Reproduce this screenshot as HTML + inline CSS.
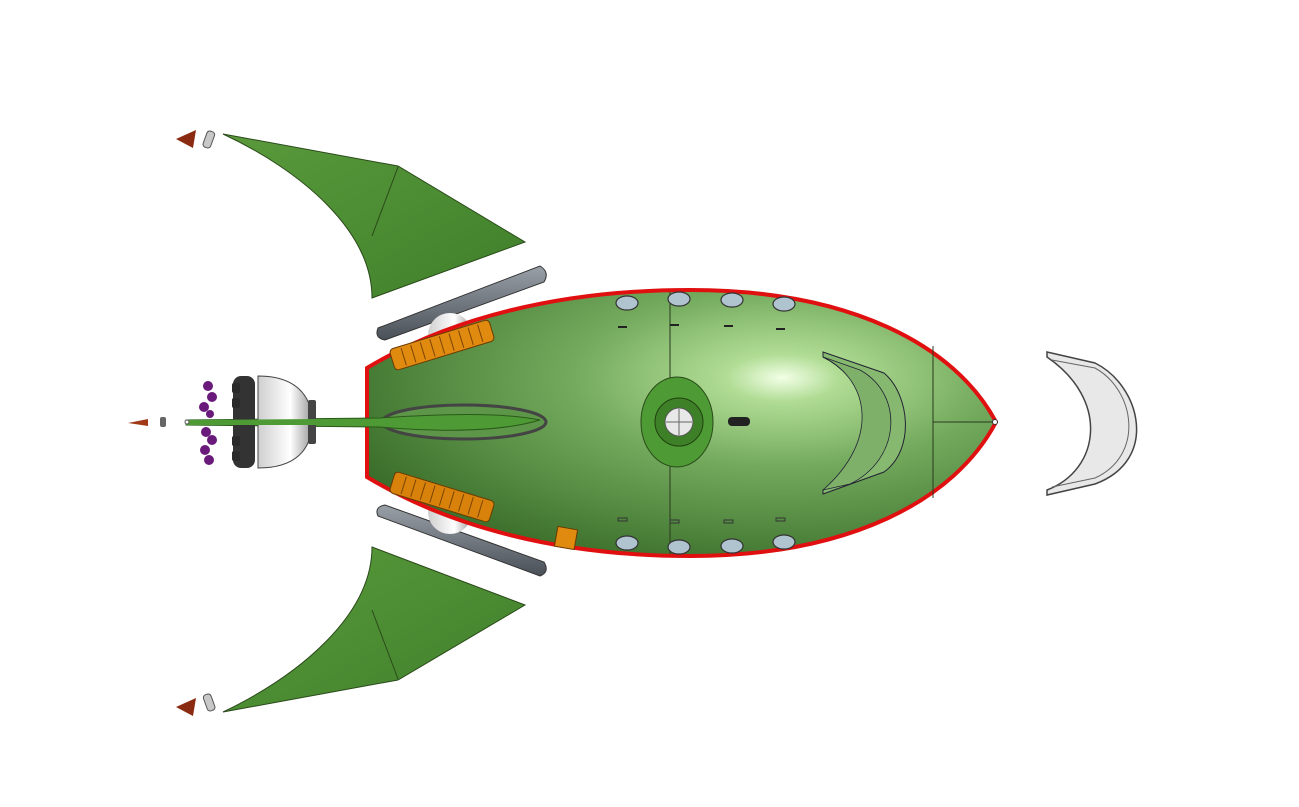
<!DOCTYPE html>
<html><head><style>html,body{margin:0;padding:0;background:#fff}svg{display:block}</style></head>
<body>
<svg width="1299" height="807" viewBox="0 0 1299 807" xmlns="http://www.w3.org/2000/svg">
<defs>
<radialGradient id="body" cx="0.66" cy="0.33" r="0.75">
<stop offset="0" stop-color="#f2ffe6"/><stop offset="0.12" stop-color="#b0dc94"/><stop offset="0.45" stop-color="#72a95c"/><stop offset="1" stop-color="#3a6e2a"/></radialGradient>
<linearGradient id="fin" x1="0" y1="0" x2="1" y2="1"><stop offset="0" stop-color="#5a9a3c"/><stop offset="1" stop-color="#3f7f2a"/></linearGradient>
<linearGradient id="dome" x1="0" y1="0" x2="1" y2="0"><stop offset="0" stop-color="#cfcfcf"/><stop offset="0.6" stop-color="#ffffff"/><stop offset="1" stop-color="#9a9a9a"/></linearGradient>
<linearGradient id="strip" x1="0" y1="0" x2="0" y2="1"><stop offset="0" stop-color="#9aa0a8"/><stop offset="1" stop-color="#4a5058"/></linearGradient>
</defs>

<path d="M223,134 L398,166 L525,242 L372,298 C372,230 300,170 223,134 Z" fill="url(#fin)" stroke="#2a4a1a" stroke-width="1"/>
<line x1="398" y1="167" x2="372" y2="236" stroke="#2a4a1a" stroke-width="1"/>
<path d="M223,712 L398,680 L525,605 L372,547 C372,615 300,675 223,712 Z" fill="url(#fin)" stroke="#2a4a1a" stroke-width="1"/>
<line x1="398" y1="679" x2="372" y2="610" stroke="#2a4a1a" stroke-width="1"/>

<polygon points="176,139 196,130 193,148" fill="#8a2a10"/>
<rect x="205" y="131" width="8" height="17" rx="3" fill="#c8c8c8" stroke="#555" transform="rotate(20 209 139)"/>
<polygon points="176,707 196,698 193,716" fill="#8a2a10"/>
<rect x="205" y="694" width="8" height="17" rx="3" fill="#c8c8c8" stroke="#555" transform="rotate(-20 209 702)"/>
<polygon points="128,423 148,419 148,426" fill="#a03a18"/>
<rect x="160" y="417" width="6" height="10" rx="2" fill="#666"/>

<path d="M378,328 L540,266 Q550,272 544,282 L385,340 Q374,338 378,328 Z" fill="url(#strip)" stroke="#333" stroke-width="1"/>
<path d="M378,516 L540,576 Q550,572 544,562 L385,505 Q374,507 378,516 Z" fill="url(#strip)" stroke="#333" stroke-width="1"/>

<circle cx="450" cy="335" r="22" fill="url(#dome)"/>
<circle cx="450" cy="512" r="22" fill="url(#dome)"/>

<path d="M367,368 C450,318 560,290 690,290 C850,290 955,345 996,422 C955,500 850,556 690,556 C560,556 450,527 367,477 Z" fill="url(#body)" stroke="#e01010" stroke-width="4"/>
<line x1="670" y1="292" x2="670" y2="554" stroke="#2a3a20" stroke-width="1"/>
<line x1="933" y1="346" x2="933" y2="498" stroke="#2a3a20" stroke-width="1"/>
<line x1="933" y1="422" x2="994" y2="422" stroke="#2a3a20" stroke-width="1"/>
<circle cx="995" cy="422" r="2.5" fill="#fff" stroke="#333"/>

<path d="M823,352 L884,373 C910,395 915,450 884,472 L823,494 L823,490 C860,470 880,440 870,410 C860,385 840,365 823,357 Z" fill="#86b870" stroke="#223" stroke-width="1"/>
<path d="M823,357 C870,380 880,440 823,490 L850,484 C900,460 905,395 860,370 Z" fill="#7eb06a" stroke="#223" stroke-width="0.8"/>

<ellipse cx="677" cy="422" rx="36" ry="45" fill="#4e9a34" stroke="#2a4a1a"/>
<circle cx="679" cy="422" r="24" fill="#3e8028" stroke="#204010"/>
<circle cx="679" cy="422" r="14" fill="#e8e8e8" stroke="#555"/>
<line x1="666" y1="422" x2="692" y2="422" stroke="#666"/><line x1="679" y1="409" x2="679" y2="435" stroke="#666"/>
<rect x="728" y="417" width="22" height="9" rx="4" fill="#222"/>

<g fill="#b0c4d0" stroke="#333" stroke-width="1.2">
<ellipse cx="627" cy="303" rx="11" ry="7"/><ellipse cx="679" cy="299" rx="11" ry="7"/><ellipse cx="732" cy="300" rx="11" ry="7"/><ellipse cx="784" cy="304" rx="11" ry="7"/>
<ellipse cx="627" cy="543" rx="11" ry="7"/><ellipse cx="679" cy="547" rx="11" ry="7"/><ellipse cx="732" cy="546" rx="11" ry="7"/><ellipse cx="784" cy="542" rx="11" ry="7"/>
</g>
<g fill="#222"><rect x="618" y="326" width="9" height="2"/><rect x="670" y="324" width="9" height="2"/><rect x="724" y="325" width="9" height="2"/><rect x="776" y="328" width="9" height="2"/></g>
<g fill="none" stroke="#333"><rect x="618" y="518" width="9" height="3"/><rect x="670" y="520" width="9" height="3"/><rect x="724" y="520" width="9" height="3"/><rect x="776" y="518" width="9" height="3"/></g>

<g transform="rotate(-17 442 345)"><rect x="390" y="334" width="104" height="22" rx="4" fill="#e08a10" stroke="#6a3a00"/>
<g stroke="#7a4400"><line x1="402" y1="336" x2="402" y2="354"/><line x1="412" y1="336" x2="412" y2="354"/><line x1="422" y1="336" x2="422" y2="354"/><line x1="432" y1="336" x2="432" y2="354"/><line x1="442" y1="336" x2="442" y2="354"/><line x1="452" y1="336" x2="452" y2="354"/><line x1="462" y1="336" x2="462" y2="354"/><line x1="472" y1="336" x2="472" y2="354"/><line x1="482" y1="336" x2="482" y2="354"/></g></g>
<g transform="rotate(17 442 497)"><rect x="390" y="486" width="104" height="22" rx="4" fill="#d8820c" stroke="#6a3a00"/>
<g stroke="#7a4400"><line x1="402" y1="488" x2="402" y2="506"/><line x1="412" y1="488" x2="412" y2="506"/><line x1="422" y1="488" x2="422" y2="506"/><line x1="432" y1="488" x2="432" y2="506"/><line x1="442" y1="488" x2="442" y2="506"/><line x1="452" y1="488" x2="452" y2="506"/><line x1="462" y1="488" x2="462" y2="506"/><line x1="472" y1="488" x2="472" y2="506"/><line x1="482" y1="488" x2="482" y2="506"/></g></g>
<rect x="556" y="528" width="20" height="20" fill="#e08a10" stroke="#6a3a00" transform="rotate(10 566 538)"/>

<ellipse cx="464" cy="422" rx="82" ry="17" fill="#5d9648" stroke="#444" stroke-width="3"/>
<path d="M186,420 L380,418 C440,414 500,412 540,420 C500,432 440,432 380,427 L186,425 Z" fill="#4e9a34" stroke="#2a5a1a" stroke-width="1"/>

<rect x="233" y="376" width="22" height="92" rx="8" fill="#333"/>
<g fill="#2a2a2a"><rect x="232" y="383" width="8" height="10" rx="2"/><rect x="232" y="398" width="8" height="10" rx="2"/><rect x="232" y="436" width="8" height="10" rx="2"/><rect x="232" y="451" width="8" height="10" rx="2"/></g>
<path d="M258,376 C295,376 312,395 312,422 C312,450 295,468 258,468 Z" fill="url(#dome)" stroke="#444"/>
<rect x="308" y="400" width="8" height="44" rx="2" fill="#444"/>
<path d="M186,420 L320,419 L320,425 L186,425 Z" fill="#4e9a34"/>
<circle cx="187" cy="422" r="2" fill="#fff" stroke="#555"/>

<g fill="#6a1a7a"><circle cx="208" cy="386" r="5"/><circle cx="212" cy="397" r="5"/><circle cx="204" cy="407" r="5"/><circle cx="210" cy="414" r="4"/><circle cx="206" cy="432" r="5"/><circle cx="212" cy="440" r="5"/><circle cx="205" cy="450" r="5"/><circle cx="209" cy="460" r="5"/></g>

<path d="M1047,352 L1095,363 C1140,385 1160,460 1095,484 L1047,495 L1047,490 C1100,470 1110,400 1047,357 Z" fill="#e8e8e8" stroke="#444" stroke-width="1.5"/>
<path d="M1052,360 L1095,368 C1135,390 1145,455 1095,478 L1052,487" fill="none" stroke="#666" stroke-width="1"/>
</svg>
</body></html>
